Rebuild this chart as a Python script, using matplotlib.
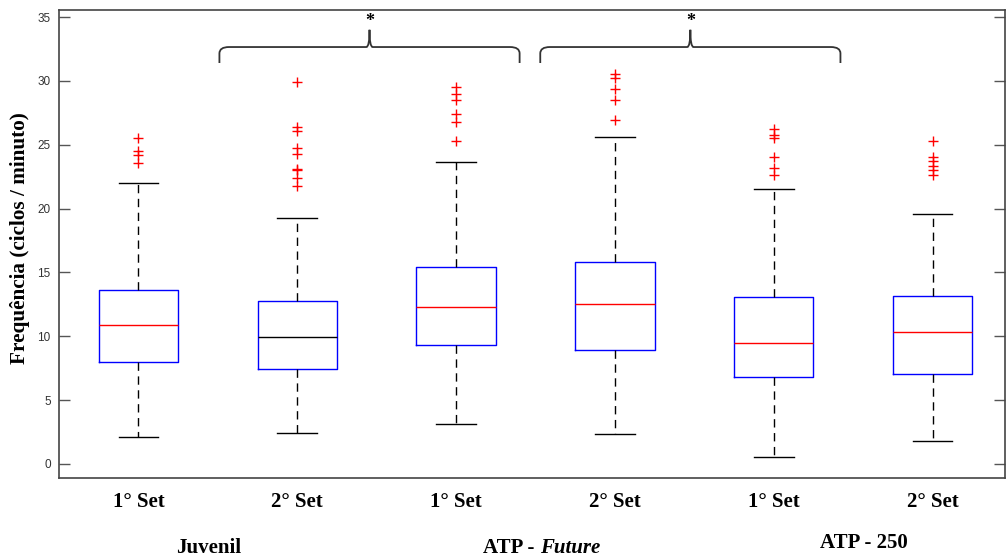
import matplotlib
matplotlib.use("Agg")
import matplotlib.pyplot as plt
from matplotlib.path import Path
from matplotlib.patches import PathPatch

# ---- data ----
set_labels = ["1° Set", "2° Set", "1° Set", "2° Set", "1° Set", "2° Set"]
medians = [10.9, 9.95, 12.3, 12.5, 9.5, 10.35]
q1s = [8.0, 7.45, 9.3, 8.9, 6.8, 7.05]
q3s = [13.6, 12.8, 15.4, 15.8, 13.1, 13.15]
whislo = [2.1, 2.4, 3.1, 2.35, 0.55, 1.8]
whishi = [22.0, 19.3, 23.65, 25.6, 21.5, 19.6]
fliers = [
    [25.5, 24.5, 24.2, 23.6],
    [29.9, 26.4, 26.1, 24.75, 24.25, 23.1, 23.0, 22.4, 21.8],
    [29.5, 29.0, 28.5, 27.4, 26.8, 25.3],
    [30.5, 30.2, 29.4, 28.5, 26.9],
    [26.2, 25.8, 25.55, 24.05, 23.2, 22.6],
    [25.3, 24.0, 23.7, 23.35, 23.0, 22.65],
]
median_colors = ["red", "black", "red", "red", "red", "red"]
group_labels = ["Juvenil", "ATP - ", "Future", "ATP - 250"]
yticks = [0, 5, 10, 15, 20, 25, 30, 35]
ylabel = "Frequência (ciclos / minuto)"

serif = "Liberation Serif"
sans = "Liberation Sans"

fig = plt.figure(figsize=(10.07, 5.59), dpi=100)
ax = fig.add_axes([59 / 1007, 81 / 559, (1005 - 59) / 1007, (478 - 10) / 559])

positions = list(range(1, len(medians) + 1))
stats = []
for i in range(len(medians)):
    stats.append(dict(med=medians[i], q1=q1s[i], q3=q3s[i],
                      whislo=whislo[i], whishi=whishi[i], fliers=fliers[i]))

res = ax.bxp(stats, positions=positions, widths=0.5, showfliers=True,
             boxprops=dict(color="blue", linewidth=1.0),
             whiskerprops=dict(color="black", linestyle=(0, (6, 4)), linewidth=1.0),
             capprops=dict(color="black", linewidth=1.0),
             flierprops=dict(marker="+", markeredgecolor="red", markersize=7,
                             markeredgewidth=1.0, linestyle="none"),
             medianprops=dict(color="red", linewidth=1.0),
             capwidths=0.25)
for m, c in zip(res["medians"], median_colors):
    m.set_color(c)

ax.set_xlim(0.5, 6.456)
ax.set_ylim(-1.1, 35.55)
ax.set_yticks(yticks)
ax.set_yticklabels([str(t) for t in yticks], fontfamily=sans, fontsize=8.5, color="#333333")
ax.tick_params(axis="y", direction="in", length=8, width=1, color="#555555",
               right=True, left=True, pad=6)
ax.set_xticks(positions)
ax.set_xticklabels(set_labels, fontfamily=serif, fontweight="bold", fontsize=15)
ax.tick_params(axis="x", length=0, pad=10)
for s in ax.spines.values():
    s.set_color("#444444")
    s.set_linewidth(1.2)

ax.set_ylabel(ylabel, fontfamily=serif, fontweight="bold", fontsize=15.3, va="center")
ax.yaxis.set_label_coords(-39 / 946, 0.512)

# braces with significance stars
def brace(x0, x1, y_base, y_end, y_peak):
    xm = (x0 + x1) / 2
    r = 0.06
    verts = [(x0, y_end), (x0, y_base - 0.5), (x0, y_base), (x0 + r, y_base),
             (xm - 0.02, y_base), (xm, y_base), (xm, y_peak),
             (xm, y_base), (xm + 0.02, y_base),
             (x1 - r, y_base), (x1, y_base), (x1, y_base - 0.5), (x1, y_end)]
    codes = [Path.MOVETO, Path.LINETO, Path.CURVE3, Path.CURVE3,
             Path.LINETO, Path.CURVE3, Path.CURVE3,
             Path.CURVE3, Path.CURVE3,
             Path.LINETO, Path.CURVE3, Path.CURVE3, Path.LINETO]
    ax.add_patch(PathPatch(Path(verts, codes), fill=False, edgecolor="#333333",
                           linewidth=1.3, clip_on=False))
    ax.text(xm, 34.3, "*", ha="center", va="baseline", fontsize=13,
            fontweight="bold", color="black", fontfamily=serif)

brace(1.51, 3.40, 32.65, 31.4, 34.0)
brace(3.53, 5.42, 32.65, 31.4, 34.0)

# group labels
trans = ax.get_xaxis_transform()
ax.text(1.445, -0.149, group_labels[0], transform=trans, ha="center", va="center",
        fontfamily=serif, fontweight="bold", fontsize=15)
t1 = ax.text(3.171, -0.149, group_labels[1], transform=trans, ha="left", va="center",
             fontfamily=serif, fontweight="bold", fontsize=15)
ax.annotate(group_labels[2], xy=(1, 0), xycoords=t1, ha="left", va="bottom",
            fontfamily=serif, fontweight="bold", fontstyle="italic", fontsize=15)
ax.text(5.57, -0.139, group_labels[3], transform=trans, ha="center", va="center",
        fontfamily=serif, fontweight="bold", fontsize=15)

fig.savefig("out.png", dpi=100)
